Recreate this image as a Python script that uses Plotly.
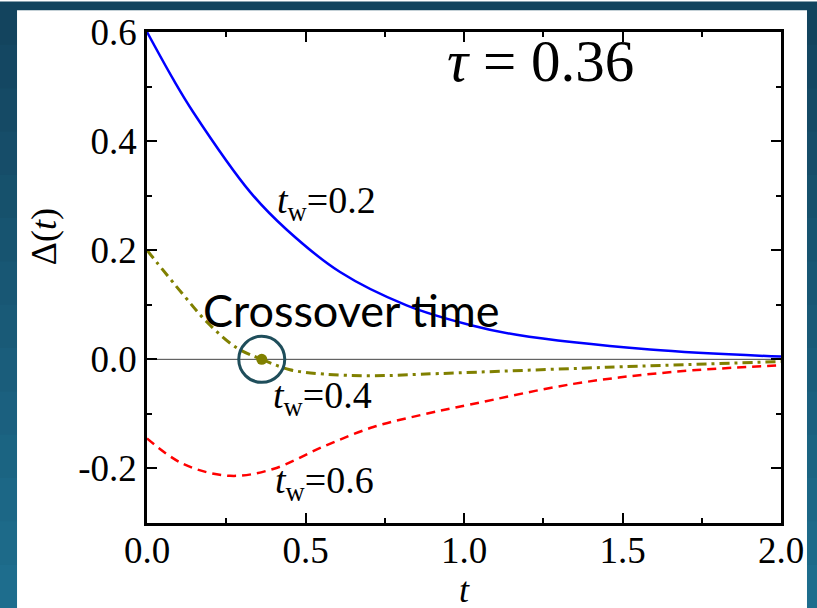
import plotly.graph_objects as go

# ---- data ----
t_blue = [0, 0.083, 0.146, 0.325, 0.44, 0.609, 0.819, 1.019, 1.166, 1.587, 2.0]
v_blue = [0.6, 0.513, 0.453, 0.307, 0.238, 0.160, 0.099, 0.063, 0.045, 0.018, 0.005]

t_olive = [0, 0.115, 0.188, 0.283, 0.362, 0.451, 0.556, 0.714, 0.924, 1.45, 2.0]
v_olive = [0.2, 0.118, 0.069, 0.021, 0.0, -0.019, -0.027, -0.030, -0.026, -0.0146, -0.004]

t_red = [0, 0.115, 0.262, 0.398, 0.556, 0.714, 0.872, 1.019, 1.345, 1.66, 2.0]
v_red = [-0.145, -0.192, -0.2135, -0.201, -0.160, -0.124, -0.101, -0.083, -0.045, -0.023, -0.011]

crossover_t = [0.362]
crossover_v = [0.0]

x_ticks = [0.0, 0.5, 1.0, 1.5, 2.0]
x_ticklabels = ["0.0", "0.5", "1.0", "1.5", "2.0"]
y_ticks = [-0.2, 0.0, 0.2, 0.4, 0.6]
y_ticklabels = ["-0.2", "0.0", "0.2", "0.4", "0.6"]

labels = ["<i>t</i><sub>w</sub>=0.2", "<i>t</i><sub>w</sub>=0.4", "<i>t</i><sub>w</sub>=0.6"]
label_x = [0.565, 0.555, 0.56]
label_y = [0.287, -0.07, -0.226]

SERIF = "Liberation Serif, DejaVu Serif, serif"

fig = go.Figure()

# zero line
fig.add_trace(go.Scatter(x=[0, 2], y=[0, 0], mode="lines",
                         line=dict(color="#444444", width=1), hoverinfo="skip"))

fig.add_trace(go.Scatter(x=t_blue, y=v_blue, mode="lines", line_shape="spline",
                         line=dict(color="#0000FF", width=2.5)))
fig.add_trace(go.Scatter(x=t_olive, y=v_olive, mode="lines", line_shape="spline",
                         line=dict(color="#808000", width=3, dash="10px,5px,3px,5px")))
fig.add_trace(go.Scatter(x=t_red, y=v_red, mode="lines", line_shape="spline",
                         line=dict(color="#FF0000", width=2.5, dash="9px,6px")))

# crossover marker
fig.add_trace(go.Scatter(x=crossover_t, y=crossover_v, mode="markers",
                         marker=dict(symbol="circle-open", size=46, color="#1F4E5B",
                                     line=dict(color="#1F4E5B", width=3))))
fig.add_trace(go.Scatter(x=crossover_t, y=crossover_v, mode="markers",
                         marker=dict(symbol="circle", size=11, color="#808000")))

# background: dark gradient border + white panel
top = (0x13, 0x44, 0x5E)
bot = (0x1E, 0x6D, 0x8D)
n = 14
y_top, y_bot = 1.06, -0.175
shapes = []
for i in range(n):
    f = i / (n - 1)
    c = tuple(int(round(top[k] + (bot[k] - top[k]) * f)) for k in range(3))
    y1 = y_top - (y_top - y_bot) * i / n
    y0 = y_top - (y_top - y_bot) * (i + 1) / n
    shapes.append(dict(type="rect", xref="paper", yref="paper", x0=-0.235, x1=1.06,
                       y0=y0 - 0.002, y1=y1 + 0.002, line=dict(width=0),
                       fillcolor="rgb(%d,%d,%d)" % c, layer="below"))
shapes.append(dict(type="rect", xref="paper", yref="paper", x0=-0.205, x1=1.041,
                   y0=-0.2, y1=1.0445, line=dict(width=0), fillcolor="white", layer="below"))

annotations = []
for txt, lx, ly in zip(labels, label_x, label_y):
    annotations.append(dict(x=lx, y=ly, xref="x", yref="y", text=txt, showarrow=False,
                            xanchor="center", yanchor="middle",
                            font=dict(family=SERIF, size=38, color="black")))
annotations.append(dict(x=1.24, y=0.547, xref="x", yref="y", text="<i>τ</i> = 0.36",
                        showarrow=False, xanchor="center", yanchor="middle",
                        font=dict(family=SERIF, size=59, color="black")))
annotations.append(dict(x=0.644, y=0.09, xref="x", yref="y", text="Crossover time",
                        showarrow=False, xanchor="center", yanchor="middle",
                        font=dict(family="Lato, sans-serif", size=45, color="black")))
annotations.append(dict(x=-0.163, y=0.225, xref="paper", yref="y", text="Δ(<i>t</i>)",
                        textangle=-90, showarrow=False, xanchor="center", yanchor="middle",
                        font=dict(family=SERIF, size=36, color="black")))
annotations.append(dict(x=1.0, y=-0.137, xref="x", yref="paper", text="<i>t</i>",
                        showarrow=False, xanchor="center", yanchor="middle",
                        font=dict(family=SERIF, size=36, color="black")))

axis_common = dict(showline=True, linecolor="black", linewidth=2.5, mirror="ticks",
                   ticks="inside", ticklen=10, tickwidth=2, tickcolor="black",
                   showgrid=False, zeroline=False,
                   tickfont=dict(family=SERIF, size=37, color="black"))

fig.update_layout(
    width=817, height=608,
    margin=dict(l=147, r=36, t=29, b=85),
    paper_bgcolor="white", plot_bgcolor="white",
    showlegend=False,
    shapes=shapes,
    annotations=annotations,
    xaxis=dict(range=[0, 2], tickvals=x_ticks, ticktext=x_ticklabels, ticklabelstandoff=-7,
               minor=dict(dtick=0.25, ticks="inside", ticklen=5, tickwidth=2, tickcolor="black"),
               **axis_common),
    yaxis=dict(range=[-0.3, 0.6], tickvals=y_ticks, ticktext=y_ticklabels,
               minor=dict(dtick=0.1, tick0=0, ticks="inside", ticklen=5, tickwidth=2, tickcolor="black"),
               **axis_common),
)

fig.write_html("out.html")
